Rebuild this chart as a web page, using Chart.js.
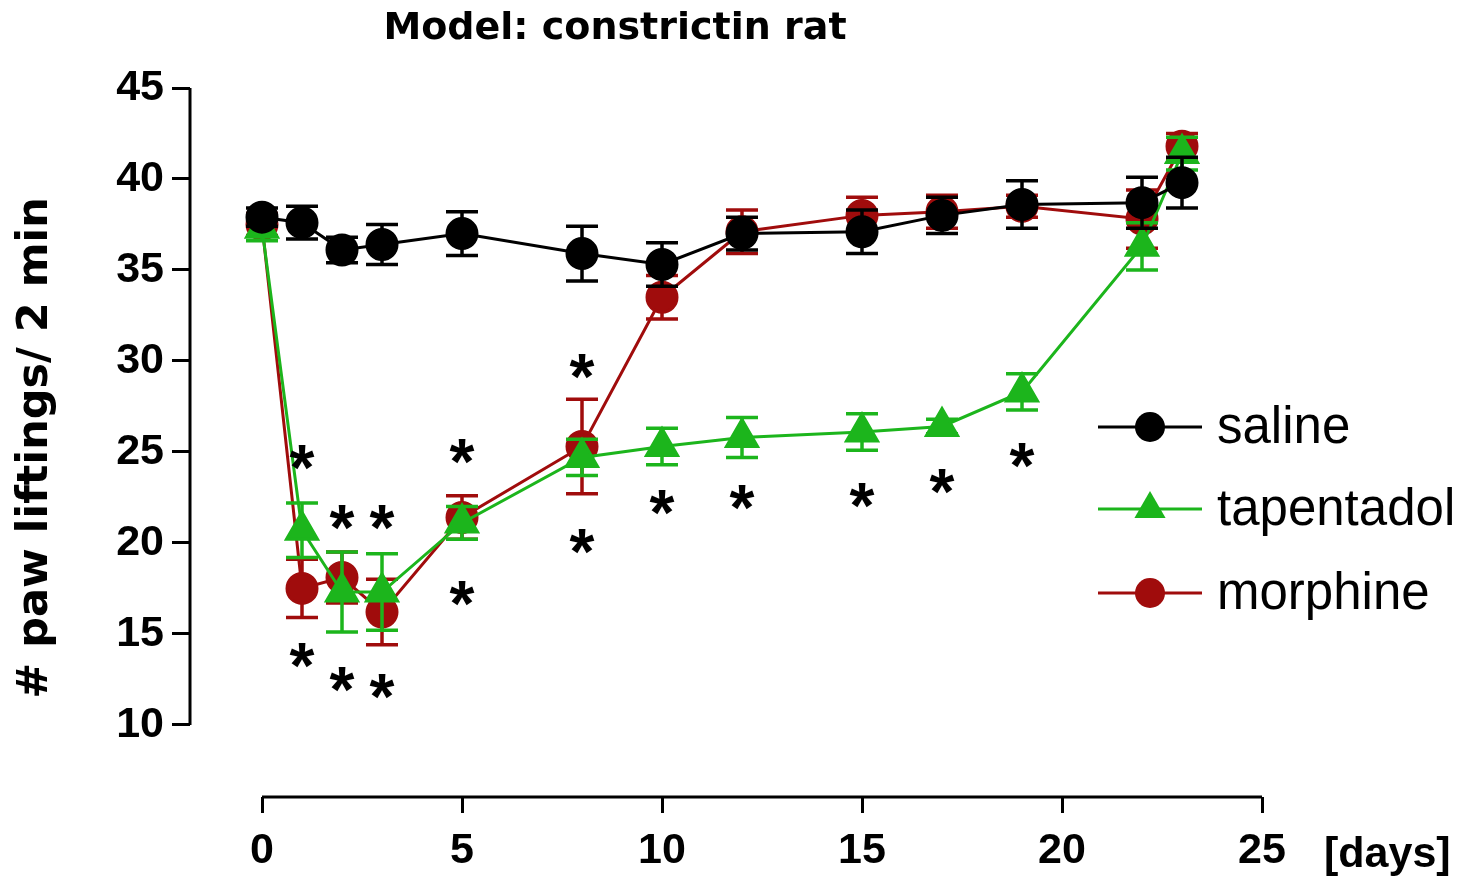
<!DOCTYPE html>
<html>
<head>
<meta charset="utf-8">
<script src="https://cdn.jsdelivr.net/npm/chart.js@4.4.1/dist/chart.umd.min.js"></script>
<style>
  html, body { margin: 0; padding: 0; background: #fff; }
  #wrap { width: 1466px; height: 880px; }
</style>
</head>
<body>
<div id="wrap"><canvas id="myChart" width="1466" height="880"></canvas></div>
<script>
// days after surgery
const days = [0, 1, 2, 3, 5, 8, 10, 12, 15, 17, 19, 22, 23];

const saline = [37.9, 37.6, 36.1, 36.4, 37.0, 35.9, 35.3, 37.0, 37.1, 38.0, 38.6, 38.7, 39.8];
const salineErr = [0.5, 0.9, 0.7, 1.1, 1.2, 1.5, 1.2, 0.9, 1.2, 1.0, 1.3, 1.4, 1.4];

const tapentadol = [37.3, 20.7, 17.3, 17.3, 21.1, 24.7, 25.3, 25.8, 26.1, 26.4, 28.3, 36.3, 41.4];
const tapentadolErr = [0.7, 1.5, 2.2, 2.1, 0.9, 1.0, 1.0, 1.1, 1.0, 0.4, 1.0, 1.3, 0.9];

const morphine = [37.5, 17.5, 18.1, 16.2, 21.4, 25.3, 33.5, 37.1, 38.0, 38.2, 38.5, 37.8, 41.8];
const morphineErr = [0.6, 1.6, 1.4, 1.8, 1.2, 2.6, 1.2, 1.2, 1.0, 0.9, 0.6, 1.6, 0.7];

// significance marks (day, level)
const starDays = [1, 1, 2, 2, 3, 3, 5, 5, 8, 8, 10, 12, 15, 17, 19];
const starLevels = [24.7, 13.8, 21.4, 12.5, 21.4, 12.1, 25.0, 17.2, 29.7, 20.1, 22.2, 22.5, 22.6, 23.4, 24.8];

const yTicks = [10, 15, 20, 25, 30, 35, 40, 45];
const xTicks = [0, 5, 10, 15, 20, 25];

const BLACK = "#000000";
const GREEN = "#1cb51c";
const RED = "#a00c0c";

const errs = [salineErr, tapentadolErr, morphineErr];

const toPoints = (vals) => days.map((d, i) => ({ x: d, y: vals[i] }));

const errorBars = {
    id: "errorBars",
    beforeDatasetDraw(chart, args) {
        const { ctx, scales: { x, y } } = chart;
        const ds = chart.data.datasets[args.index];
        const err = errs[args.index];
        ctx.save();
        ctx.strokeStyle = ds.borderColor;
        ctx.lineWidth = 3.5;
        ds.data.forEach((p, i) => {
            const px = x.getPixelForValue(p.x);
            const top = y.getPixelForValue(p.y + err[i]);
            const bot = y.getPixelForValue(p.y - err[i]);
            ctx.beginPath();
            ctx.moveTo(px, top); ctx.lineTo(px, bot);
            ctx.moveTo(px - 16, top); ctx.lineTo(px + 16, top);
            ctx.moveTo(px - 16, bot); ctx.lineTo(px + 16, bot);
            ctx.stroke();
        });
        ctx.restore();
    }
};

const decorations = {
    id: "decorations",
    afterDraw(chart) {
        const { ctx, scales: { x, y } } = chart;
        ctx.save();

        // axis lines
        ctx.strokeStyle = BLACK;
        ctx.lineWidth = 3;
        ctx.beginPath();
        ctx.moveTo(x.left, y.getPixelForValue(10));
        ctx.lineTo(x.left, y.getPixelForValue(45));
        ctx.moveTo(x.getPixelForValue(0), y.bottom);
        ctx.lineTo(x.getPixelForValue(25), y.bottom);
        ctx.stroke();

        // asterisks
        ctx.fillStyle = BLACK;
        ctx.font = "bold 64px 'Liberation Sans', Arial, sans-serif";
        ctx.textAlign = "center";
        ctx.textBaseline = "alphabetic";
        const m = ctx.measureText("*");
        const off = (m.actualBoundingBoxAscent - m.actualBoundingBoxDescent) / 2;
        starDays.forEach((d, i) => {
            ctx.fillText("*", x.getPixelForValue(d), y.getPixelForValue(starLevels[i]) + off);
        });

        // title
        ctx.textBaseline = "middle";
        ctx.font = "bold 38px 'DejaVu Sans', Verdana, sans-serif";
        ctx.fillText("Model: constrictin rat", 615, 29);

        // x unit
        ctx.font = "bold 43px 'Liberation Sans', Arial, sans-serif";
        ctx.textAlign = "left";
        ctx.fillText("[days]", 1324, 855);

        // y title
        ctx.save();
        ctx.translate(36, 448);
        ctx.rotate(-Math.PI / 2);
        ctx.textAlign = "center";
        ctx.font = "bold 43px 'DejaVu Sans', Verdana, sans-serif";
        ctx.fillText("# paw liftings/ 2 min", 0, 0);
        ctx.restore();

        // legend
        const items = [
            { label: "saline", color: BLACK, shape: "circle", r: 15 },
            { label: "tapentadol", color: GREEN, shape: "triangle", r: 18 },
            { label: "morphine", color: RED, shape: "circle", r: 15 }
        ];
        const rows = [427, 509, 593];
        items.forEach((it, i) => {
            const cy = rows[i];
            ctx.strokeStyle = it.color;
            ctx.lineWidth = 3;
            ctx.beginPath();
            ctx.moveTo(1098, cy); ctx.lineTo(1202, cy);
            ctx.stroke();
            ctx.fillStyle = it.color;
            ctx.beginPath();
            if (it.shape === "circle") {
                ctx.arc(1150, cy, it.r, 0, Math.PI * 2);
            } else {
                const r = it.r;
                ctx.moveTo(1150, cy - r);
                ctx.lineTo(1150 + r * 0.866, cy + r / 2);
                ctx.lineTo(1150 - r * 0.866, cy + r / 2);
                ctx.closePath();
            }
            ctx.fill();
            ctx.fillStyle = BLACK;
            ctx.font = "51px 'Liberation Sans', Arial, sans-serif";
            ctx.textAlign = "left";
            ctx.textBaseline = "middle";
            ctx.fillText(it.label, 1217, cy + 2);
        });

        ctx.restore();
    }
};

const ctx = document.getElementById("myChart");
new Chart(ctx, {
    type: "line",
    data: {
        datasets: [
            {
                label: "saline",
                data: toPoints(saline),
                borderColor: BLACK,
                backgroundColor: BLACK,
                pointStyle: "circle",
                pointRadius: 15,
                borderWidth: 3
            },
            {
                label: "tapentadol",
                data: toPoints(tapentadol),
                borderColor: GREEN,
                backgroundColor: GREEN,
                pointStyle: "triangle",
                pointRadius: 18,
                borderWidth: 3
            },
            {
                label: "morphine",
                data: toPoints(morphine),
                borderColor: RED,
                backgroundColor: RED,
                pointStyle: "circle",
                pointRadius: 15,
                borderWidth: 3
            }
        ]
    },
    options: {
        responsive: false,
        animation: false,
        devicePixelRatio: 1,
        layout: { padding: { top: 88, right: 204, left: 0, bottom: 0 } },
        elements: {
            point: { borderWidth: 0, hoverRadius: 15 },
            line: { tension: 0 }
        },
        plugins: {
            legend: { display: false },
            title: { display: false },
            tooltip: { enabled: false }
        },
        scales: {
            x: {
                type: "linear",
                min: -1.8,
                max: 25,
                afterBuildTicks: (scale) => { scale.ticks = xTicks.map(v => ({ value: v })); },
                afterFit: (scale) => { scale.height = 83; },
                border: { display: false },
                grid: { drawOnChartArea: false, drawTicks: true, tickLength: 16, color: BLACK, lineWidth: 3 },
                ticks: {
                    color: BLACK,
                    padding: 12,
                    maxRotation: 0,
                    font: { family: "'Liberation Sans', Arial, sans-serif", size: 43, weight: "bold" }
                }
            },
            y: {
                min: 6.04,
                max: 45,
                afterBuildTicks: (scale) => { scale.ticks = yTicks.map(v => ({ value: v })); },
                afterFit: (scale) => { scale.width = 190; },
                border: { display: false },
                grid: { drawOnChartArea: false, drawTicks: true, tickLength: 18, color: BLACK, lineWidth: 3 },
                ticks: {
                    color: BLACK,
                    padding: 8,
                    font: { family: "'Liberation Sans', Arial, sans-serif", size: 43, weight: "bold" }
                }
            }
        }
    },
    plugins: [errorBars, decorations]
});
</script>
</body>
</html>
